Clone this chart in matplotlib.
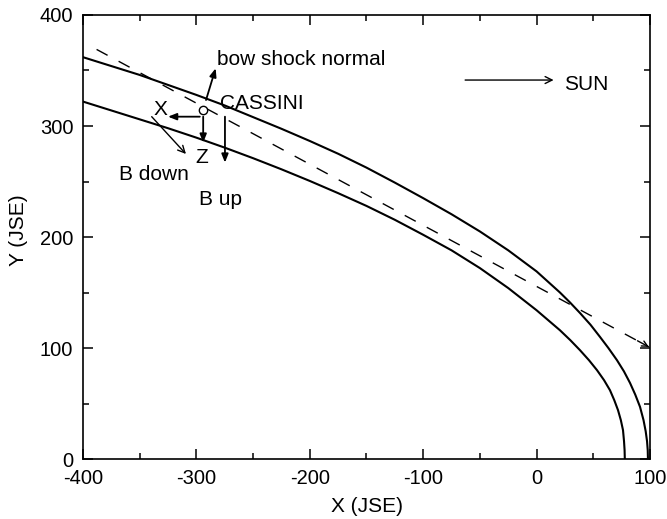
import matplotlib
matplotlib.use("Agg")
import matplotlib.pyplot as plt
from matplotlib.ticker import MultipleLocator

plt.rcParams["font.family"] = ["Liberation Sans", "DejaVu Sans"]
plt.rcParams["axes.unicode_minus"] = False

# bow shock boundaries
outer_x = [-400, -375, -350, -325, -300, -275, -250, -225, -200, -175, -150,
           -125, -100, -75, -50, -25, 0, 20.6, 29.5, 38.3, 47.5, 55.9, 63.3,
           70.9, 77, 82.4, 87, 91.2, 94.3, 96.2, 97.4, 98, 98.2]
outer_y = [362, 354, 346, 337, 328, 318.5, 308, 297.5, 286.5, 275, 262.5,
           249, 235, 220.5, 205, 188, 169, 150, 141, 131.5, 121, 110, 100,
           89, 79, 68.5, 58, 47, 35, 25, 16, 8, 0]

inner_x = [-400, -375, -350, -325, -300, -275, -250, -225, -200, -175, -150,
           -125, -100, -75, -50, -25, 0, 20.6, 29.8, 38.3, 46.2, 53.3, 59.5,
           64.7, 68.5, 71.8, 74.3, 76.2, 77.1, 77.6, 77.8]
inner_y = [322, 314, 306, 298, 289.5, 280.5, 271, 261, 250.5, 239.5, 228,
           215.5, 202, 188, 172, 154, 134, 116, 107, 98, 89, 80, 71,
           62, 53, 44, 35, 26, 16, 8, 0]

# dashed line (bow shock normal direction through Cassini)
dash_x = [-388, 99]
dash_y = [369, 101]

# Cassini position and local vectors
cassini = (-294, 314)
x_tail, x_tip = (-297, 308.4), (-325, 308.4)
z_tail, z_tip = (-294, 308.4), (-294, 285)
normal_tail, normal_tip = (-291.5, 323.4), (-283, 352)
bdown_tail, bdown_tip = (-339.4, 308.4), (-309.2, 274.8)
bup_tail, bup_tip = (-274.8, 308.4), (-274.8, 267)
sun_tail, sun_tip = (-63, 341.4), (15, 341.4)

fig = plt.figure(figsize=(6.67, 5.19), dpi=100)
ax = fig.add_axes([0.1244, 0.1156, 0.8501, 0.8555])

ax.plot(outer_x, outer_y, color="black", lw=1.5)
ax.plot(inner_x, inner_y, color="black", lw=1.5)
ax.plot(dash_x, dash_y, color="black", lw=1.0, ls=(0, (9, 9)))
ax.annotate("", xy=(dash_x[1], dash_y[1]), xytext=(dash_x[1] - 10, dash_y[1] + 5.5),
            arrowprops=dict(arrowstyle="->", color="black", lw=1.0,
                            shrinkA=0, shrinkB=0))

ax.plot(*cassini, marker="o", ms=6, mfc="white", mec="black", mew=1.0)

filled = dict(arrowstyle="-|>,head_length=0.5,head_width=0.2", color="black",
              lw=1.3, shrinkA=0, shrinkB=0)
opened = dict(arrowstyle="->,head_length=0.5,head_width=0.25", color="black",
              lw=1.0, shrinkA=0, shrinkB=0)

ax.annotate("", xy=x_tip, xytext=x_tail, arrowprops=filled)
ax.annotate("", xy=z_tip, xytext=z_tail, arrowprops=filled)
ax.annotate("", xy=normal_tip, xytext=normal_tail, arrowprops=filled)
ax.annotate("", xy=bdown_tip, xytext=bdown_tail, arrowprops=opened)
ax.annotate("", xy=bup_tip, xytext=bup_tail, arrowprops=filled)
ax.annotate("", xy=sun_tip, xytext=sun_tail, arrowprops=opened)

fs = 15
ax.text(-282, 355, "bow shock normal", fontsize=fs, va="baseline")
ax.text(-279, 315, "CASSINI", fontsize=fs, va="baseline")
ax.text(-337.5, 310, "X", fontsize=fs, va="baseline")
ax.text(-301, 266.5, "Z", fontsize=fs, va="baseline")
ax.text(-368, 251.5, "B down", fontsize=fs, va="baseline")
ax.text(-297.5, 229, "B up", fontsize=fs, va="baseline")
ax.text(24, 332, "SUN", fontsize=fs, va="baseline")

ax.set_xlim(-400, 100)
ax.set_ylim(0, 400)
ax.xaxis.set_major_locator(MultipleLocator(100))
ax.xaxis.set_minor_locator(MultipleLocator(50))
ax.yaxis.set_major_locator(MultipleLocator(100))
ax.yaxis.set_minor_locator(MultipleLocator(50))
ax.tick_params(which="both", direction="in", top=True, right=True,
               width=1.1, labelsize=14.5, pad=7)
ax.tick_params(which="major", length=7)
ax.tick_params(which="minor", length=4.5)
for s in ax.spines.values():
    s.set_linewidth(1.2)

ax.set_xlabel("X (JSE)", fontsize=15)
ax.set_ylabel("Y (JSE)", fontsize=15)
ax.xaxis.set_label_coords(0.501, -0.0856)
ax.yaxis.set_label_coords(-0.097, 0.516)

fig.savefig("out.png", dpi=100)
